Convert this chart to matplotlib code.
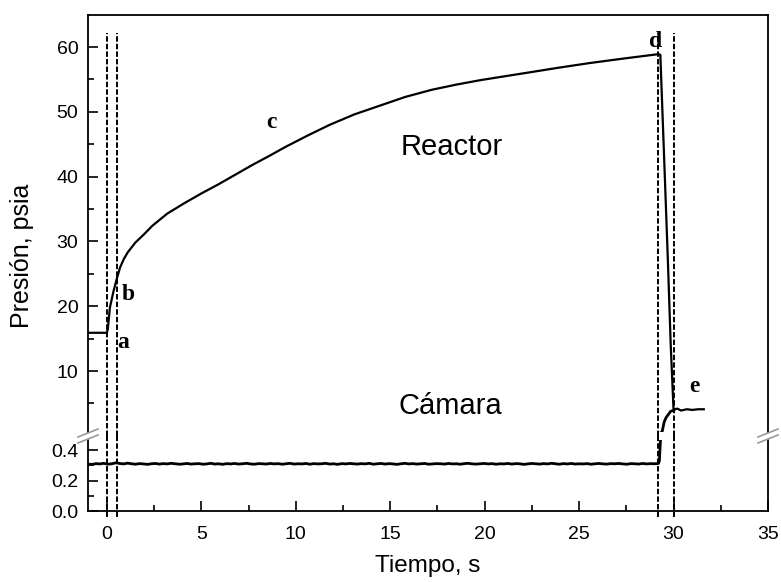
import numpy as np
import matplotlib
matplotlib.use('Agg')
import matplotlib.pyplot as plt
from matplotlib.lines import Line2D
from matplotlib.ticker import MultipleLocator

plt.rcParams['font.family'] = ['Liberation Sans', 'DejaVu Sans']

# presion en el reactor (psia) vs tiempo (s)
t_reactor = [-1.0, 0.0, 0.05, 0.16, 0.35, 0.53, 0.7, 0.9, 1.1, 1.5, 2.0, 2.4, 3.2, 4.1, 5.0,
             5.9, 6.8, 7.7, 8.6, 9.4, 10.6, 11.8, 13.1, 14.5, 15.8, 17.2, 18.5, 19.8,
             21.1, 22.4, 23.9, 25.5, 27.3, 29.2, 29.3, 29.5, 29.7, 29.85, 30.0,
             30.2, 30.4, 30.7, 31.0, 31.3, 31.6]
p_reactor = [15.9, 15.9, 16.5, 19.8, 22.3, 24.3, 26.0, 27.3, 28.3, 29.8, 31.2, 32.4, 34.3, 35.9, 37.4,
             38.8, 40.3, 41.8, 43.2, 44.5, 46.3, 48.0, 49.6, 51.0, 52.3, 53.4, 54.2, 54.9,
             55.5, 56.1, 56.8, 57.5, 58.2, 58.9, 58.8, 43.0, 27.0, 14.0, 4.0,
             4.2, 3.9, 4.1, 4.0, 4.1, 4.1]

# presion en la camara: senal con ruido hasta la apertura
cam_ruido = [0.308, 0.306, 0.311, 0.309, 0.313, 0.307, 0.310, 0.316, 0.312, 0.309, 0.314, 0.310, 0.307, 0.311, 0.309,
             0.306, 0.310, 0.312, 0.308, 0.311, 0.309, 0.313, 0.310, 0.307, 0.309, 0.312, 0.308, 0.310, 0.311, 0.307,
             0.309, 0.313, 0.308, 0.310, 0.306, 0.311, 0.309, 0.312, 0.308, 0.310, 0.313, 0.309, 0.307, 0.311, 0.310,
             0.308, 0.312, 0.309, 0.311, 0.307, 0.310, 0.313, 0.308, 0.310, 0.309, 0.312, 0.307, 0.311, 0.309, 0.310,
             0.313, 0.308, 0.310, 0.306, 0.311, 0.309, 0.312, 0.310, 0.308, 0.311, 0.309, 0.313, 0.307, 0.310, 0.312,
             0.308, 0.311, 0.309, 0.306, 0.310, 0.313, 0.309, 0.311, 0.308, 0.310, 0.312, 0.307, 0.309, 0.311, 0.310,
             0.308, 0.312, 0.309, 0.310, 0.307, 0.311, 0.313, 0.309, 0.308, 0.310, 0.312, 0.309, 0.311, 0.307, 0.310,
             0.309, 0.312, 0.308, 0.311, 0.310, 0.306, 0.309, 0.312, 0.310, 0.308, 0.311, 0.309, 0.313, 0.310, 0.307,
             0.311, 0.309, 0.312, 0.308, 0.310, 0.309, 0.311, 0.307, 0.310, 0.312, 0.309, 0.308, 0.311, 0.310, 0.312,
             0.309, 0.307, 0.311, 0.310, 0.308, 0.312, 0.309, 0.311, 0.310, 0.312]
t_cam_ruido = np.linspace(-1.0, 29.2, len(cam_ruido))
t_cam_sube = [29.25, 29.3, 29.35, 29.4, 29.5, 29.6, 29.7, 29.85, 30.0]
p_cam_sube = [0.33, 0.45, 0.52, 0.7, 2.1, 2.8, 3.2, 3.8, 3.9]
t_camara = list(t_cam_ruido) + t_cam_sube
p_camara = cam_ruido + p_cam_sube

# instantes a, b, d, e (lineas verticales)
t_eventos = [0.0, 0.53, 29.2, 30.0]

etiquetas = ['a', 'b', 'c', 'd', 'e']
etiq_t = [0.53, 0.8, 8.45, 28.7, 30.85]
etiq_p = [13.5, 21.0, 47.5, 60.0, 6.75]

W, H = 781, 582
fig = plt.figure(figsize=(W / 100, H / 100), dpi=100)
# eje superior (psia) y eje inferior (0-0.4) con corte
ax1 = fig.add_axes([88 / W, 1 - 432 / H, 680 / W, 417 / H])
ax2 = fig.add_axes([88 / W, 1 - 511 / H, 680 / W, 71 / H])

for ax in (ax1, ax2):
    ax.set_xlim(-1, 35)
    for s in ax.spines.values():
        s.set_linewidth(1.3)
    ax.tick_params(which='both', direction='in', labelsize=14, width=1.2, pad=7)
    ax.tick_params(which='major', length=7)
    ax.tick_params(which='minor', length=4)
    ax.plot(t_camara, p_camara, color='black', lw=2.0)

ax1.set_ylim(0.59, 64.94)
ax2.set_ylim(0, 0.466)
ax1.spines['bottom'].set_visible(False)
ax2.spines['top'].set_visible(False)

ax1.plot(t_reactor, p_reactor, color='black', lw=1.6)

ax1.yaxis.set_major_locator(MultipleLocator(10))
ax1.yaxis.set_minor_locator(MultipleLocator(5))
ax1.set_yticks([10, 20, 30, 40, 50, 60])
ax1.tick_params(axis='x', which='both', bottom=False, labelbottom=False)

ax2.yaxis.set_major_locator(MultipleLocator(0.2))
ax2.yaxis.set_minor_locator(MultipleLocator(0.1))
ax2.yaxis.set_major_formatter(matplotlib.ticker.FormatStrFormatter('%.1f'))
ax2.xaxis.set_major_locator(MultipleLocator(5))
ax2.xaxis.set_minor_locator(MultipleLocator(2.5))
ax2.tick_params(axis='x', which='major', pad=11)

# lineas discontinuas de los eventos
for te in t_eventos:
    ax1.plot([te, te], [0.0, 62.2], color='black', lw=1.4, ls=(0, (2.8, 1.1)), clip_on=False)
    ax2.plot([te, te], [-0.04, 0.5], color='black', lw=1.4, ls=(0, (2.8, 1.1)), clip_on=False)

ax1.text(15.56, 43.3, 'Reactor', fontsize=21, ha='left', va='baseline')
ax1.text(15.45, 3.36, 'Cámara', fontsize=21, ha='left', va='baseline')
for lab, tx, py in zip(etiquetas, etiq_t, etiq_p):
    ax1.text(tx, py, lab, fontsize=17, fontweight='bold', family='Liberation Serif',
             ha='left', va='baseline')

# marcas del corte del eje
for xc, yc in [(88, 436), (768, 436)]:
    for dy in (-3, 3):
        x0, y0 = xc - 10, yc + dy + 4
        x1, y1 = xc + 10, yc + dy - 4
        fig.add_artist(Line2D([x0 / W, x1 / W], [1 - y0 / H, 1 - y1 / H],
                              transform=fig.transFigure, color='#999999', lw=1.2))

fig.text(22 / W, 1 - 256 / H, 'Presión, psia', fontsize=18, rotation=90,
         ha='center', va='center')
fig.text(428 / W, 1 - 566 / H, 'Tiempo, s', fontsize=17.5, ha='center', va='center')

fig.savefig('out.png', dpi=100)
